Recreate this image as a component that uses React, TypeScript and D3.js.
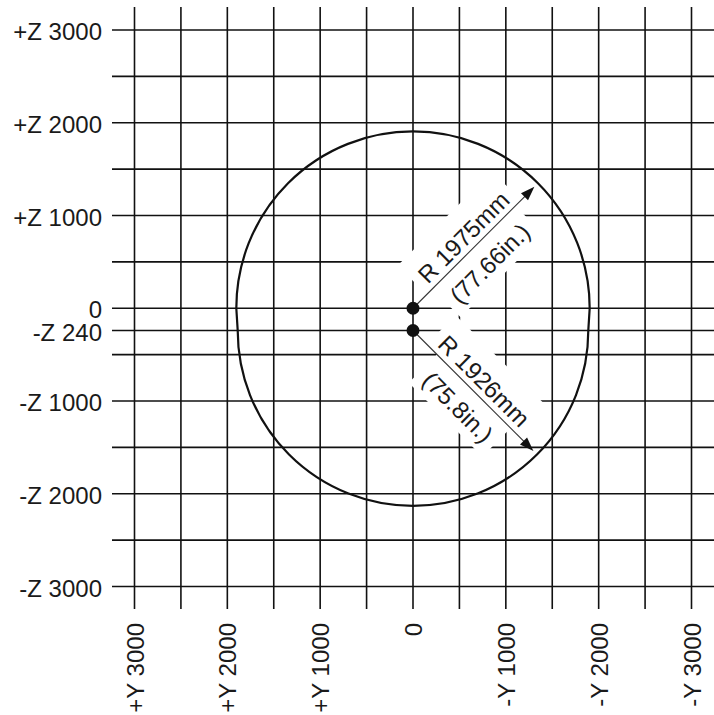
import { useEffect, useRef } from "react";
import * as d3 from "d3";

const WIDTH = 714;
const HEIGHT = 715;
const FONT = "'Liberation Sans', Arial, sans-serif";

// grid every 500 mm, plus the extra -Z 240 line
const GRID_MM = [3000, 2500, 2000, 1500, 1000, 500, 0, -500, -1000, -1500, -2000, -2500, -3000];
const EXTRA_Z = [-240];

const Z_TICKS = [3000, 2000, 1000, 0, -240, -1000, -2000, -3000];
const Z_LABELS = ["+Z 3000", "+Z 2000", "+Z 1000", "0", "-Z 240", "-Z 1000", "-Z 2000", "-Z 3000"];
const Y_TICKS = [3000, 2000, 1000, 0, -1000, -2000, -3000];
const Y_LABELS = ["+Y 3000", "+Y 2000", "+Y 1000", "0", "-Y 1000", "-Y 2000", "-Y 3000"];

// envelope as drawn: upper half around Z 0, lower half around Z -240 (mm)
const ARC_CENTERS = [0, -240];
const ARC_RADII = [1905, 1890];
const RADIUS_TEXT = ["R 1975mm", "R 1926mm"];
const INCH_TEXT = ["(77.66in.)", "(75.8in.)"];
const ARROW_ANGLES = [-45, 45];

export default function App() {
  const ref = useRef<SVGSVGElement>(null);

  useEffect(() => {
    const svg = d3.select(ref.current);
    svg.selectAll("*").remove();

    const x = d3.scaleLinear().domain([3000, -3000]).range([134.5, 691.5]);
    const z = d3.scaleLinear().domain([3000, -3000]).range([30, 586.5]);

    const grid = svg.append("g").attr("stroke", "#111").attr("stroke-width", 1.6);
    grid
      .selectAll("line.h")
      .data([...GRID_MM, ...EXTRA_Z])
      .join("line")
      .attr("class", "h")
      .attr("x1", 112)
      .attr("x2", WIDTH)
      .attr("y1", (d) => z(d))
      .attr("y2", (d) => z(d));
    grid
      .selectAll("line.v")
      .data(GRID_MM)
      .join("line")
      .attr("class", "v")
      .attr("x1", (d) => x(d))
      .attr("x2", (d) => x(d))
      .attr("y1", 7)
      .attr("y2", 609);

    svg
      .append("g")
      .attr("font-family", FONT)
      .attr("font-size", 24)
      .attr("fill", "#1a1a1a")
      .attr("text-anchor", "end")
      .selectAll("text")
      .data(Z_TICKS)
      .join("text")
      .attr("x", 102)
      .attr("y", (d) => z(d) + 10)
      .text((_, i) => Z_LABELS[i]);

    svg
      .append("g")
      .attr("font-family", FONT)
      .attr("font-size", 24)
      .attr("fill", "#1a1a1a")
      .attr("text-anchor", "end")
      .selectAll("text")
      .data(Y_TICKS)
      .join("text")
      .attr("transform", (d) => `translate(${x(d) + 9},623) rotate(-90)`)
      .text((_, i) => Y_LABELS[i]);

    const cx = x(0);
    const centers = ARC_CENTERS.map((c) => z(c));
    const radii = ARC_RADII.map((r, i) => z(ARC_CENTERS[i] - r) - z(ARC_CENTERS[i]));

    const maskLayer = svg.append("g");

    const outline = d3.path();
    outline.moveTo(cx - radii[0], centers[0]);
    outline.arc(cx, centers[0], radii[0], Math.PI, 2 * Math.PI);
    outline.lineTo(cx + radii[1], centers[1]);
    outline.arc(cx, centers[1], radii[1], 0, Math.PI);
    outline.closePath();
    svg
      .append("path")
      .attr("d", outline.toString())
      .attr("fill", "none")
      .attr("stroke", "#111")
      .attr("stroke-width", 2.2);

    ARROW_ANGLES.forEach((angle, i) => {
      const transform = `translate(${cx},${centers[i]}) rotate(${angle})`;
      const g = svg.append("g").attr("transform", transform);
      const tip = radii[i] - 5;
      g.append("line")
        .attr("x1", 0)
        .attr("x2", tip - 12)
        .attr("y1", 0)
        .attr("y2", 0)
        .attr("stroke", "#333")
        .attr("stroke-width", 1.1);
      g.append("path")
        .attr("d", `M${tip},0L${tip - 14},-5L${tip - 14},5Z`)
        .attr("fill", "#111");

      const texts = g
        .append("g")
        .attr("font-family", FONT)
        .attr("font-size", 24)
        .attr("fill", "#1a1a1a")
        .attr("text-anchor", "middle");
      const top = texts.append("text").attr("x", 86).attr("y", -6).text(RADIUS_TEXT[i]);
      const bottom = texts.append("text").attr("x", 86).attr("y", 31).text(INCH_TEXT[i]);

      const mask = maskLayer.append("g").attr("transform", transform).attr("fill", "#fff");
      const bbTop = (top.node() as SVGTextElement).getBBox();
      const bbBottom = (bottom.node() as SVGTextElement).getBBox();
      mask
        .append("rect")
        .attr("x", bbTop.x - 8)
        .attr("width", bbTop.width + 16)
        .attr("y", -41)
        .attr("height", 41);
      mask
        .append("rect")
        .attr("x", bbBottom.x - 8)
        .attr("width", bbBottom.width + 16)
        .attr("y", 0)
        .attr("height", 40);
    });

    svg
      .append("g")
      .selectAll("circle")
      .data(centers)
      .join("circle")
      .attr("cx", cx)
      .attr("cy", (d) => d)
      .attr("r", 6.5)
      .attr("fill", "#111");
  }, []);

  return (
    <svg
      ref={ref}
      width={WIDTH}
      height={HEIGHT}
      style={{ position: "absolute", left: 0, top: 0, background: "#fff" }}
    />
  );
}
